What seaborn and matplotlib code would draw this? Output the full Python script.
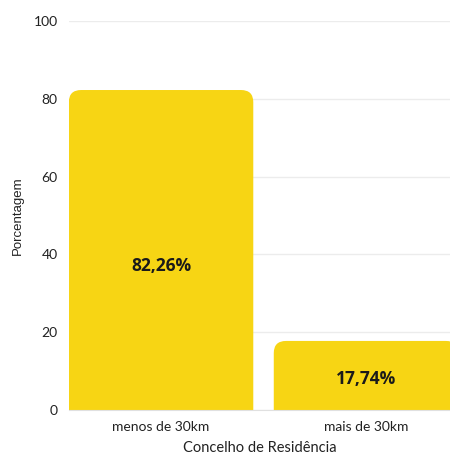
import matplotlib
matplotlib.use("Agg")
import pandas as pd
import seaborn as sns
import matplotlib.pyplot as plt
from matplotlib.patches import FancyBboxPatch

# dados
categorias = ["menos de 30km", "mais de 30km"]
porcentagens = [82.26, 17.74]
rotulos = ["82,26%", "17,74%"]

df = pd.DataFrame({"Concelho de Residência": categorias, "Porcentagem": porcentagens})

sns.set_style("white")
plt.rcParams["font.family"] = ["Lato", "DejaVu Sans"]

fig = plt.figure(figsize=(4.5, 4.57), dpi=100)
ax = fig.add_axes([0.153, 0.103, 0.847, 0.851])

amarelo = "#F7D514"
sns.barplot(data=df, x="Concelho de Residência", y="Porcentagem",
            color=amarelo, saturation=1, width=0.9, ax=ax)

ax.set_ylim(0, 100)
ax.set_xlim(-0.45, 1.41)

# cantos arredondados no topo
for p in list(ax.patches):
    x0, w, h = p.get_x(), p.get_width(), p.get_height()
    p.remove()
    r = 0.06
    caixa = FancyBboxPatch((x0, -10), w, h + 10,
                           boxstyle=f"round,pad=0,rounding_size={r}",
                           mutation_aspect=52, facecolor=amarelo,
                           edgecolor="none", zorder=2)
    ax.add_patch(caixa)

for i, (v, t) in enumerate(zip(porcentagens, rotulos)):
    ax.text(i, v * 0.45, t, ha="center", va="center",
            fontsize=12.5, fontweight="bold", color="#1a1a1a", zorder=3,
            family=["Open Sans", "DejaVu Sans"])

ax.yaxis.grid(True, color="#ececec", linewidth=1)
ax.set_axisbelow(True)
ax.set_yticks([0, 20, 40, 60, 80, 100])
for s in ["top", "right", "left"]:
    ax.spines[s].set_visible(False)
ax.spines["bottom"].set_color("#e0e0e0")
ax.tick_params(axis="both", length=0, labelsize=10, colors="#222222", pad=8)
ax.tick_params(axis="x", pad=8)
ax.set_xlabel("Concelho de Residência", fontsize=10.5, color="#222222", labelpad=6)
ax.set_ylabel("Porcentagem", fontsize=9.5, color="#222222", labelpad=7,
              family=["Liberation Sans", "DejaVu Sans"])

fig.savefig("out.png", dpi=100)
